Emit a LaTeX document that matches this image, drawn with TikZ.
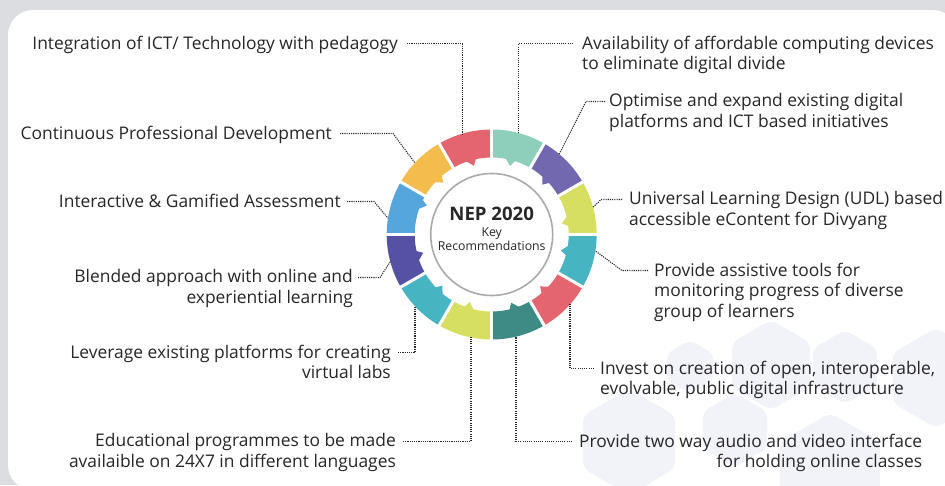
\documentclass[tikz,border=0pt]{standalone}
\usepackage{fontspec}
\setmainfont{Open Sans}
\definecolor{backgray}{RGB}{220,221,225}
\definecolor{hexfill}{RGB}{241,243,249}
\definecolor{ink}{RGB}{40,38,40}
\definecolor{hubgray}{RGB}{170,170,172}
\definecolor{segmint}{RGB}{142,207,188}
\definecolor{segviolet}{RGB}{114,104,176}
\definecolor{seglime}{RGB}{215,223,98}
\definecolor{segcyan}{RGB}{71,181,193}
\definecolor{segcoral}{RGB}{228,101,111}
\definecolor{segteal}{RGB}{62,138,132}
\definecolor{segindigo}{RGB}{85,82,164}
\definecolor{segblue}{RGB}{85,166,220}
\definecolor{segorange}{RGB}{243,188,76}

\begin{document}
\begin{tikzpicture}[
    x=1pt, y=1pt,
    lab/.style={
        inner sep=0pt,
        text=ink,
        font=\fontsize{17.4}{20.5}\selectfont
    },
    labl/.style={lab, align=right, anchor=north east},
    labr/.style={lab, align=left, anchor=north west},
    leader/.style={ink, line width=1.1pt, dash pattern=on 1.1pt off 1.1pt}
]
\def\rin{77}
\def\rout{105}

% ---------------- Fondo ----------------
\clip (0,0) rectangle (945,-485);
\fill[backgray] (0,0) rectangle (945,-485);
\fill[white, rounded corners=25pt] (8,-10) rectangle (958,-490);
\foreach \hx/\hy/\hr in {690/367/27, 771/365/45, 845/367/37, 936/378/50,
                         629/442/53, 735/430/37, 830/471/58}
    \fill[hexfill, rounded corners=7pt] (\hx,-\hy) ++(90:\hr) -- ++(-30:\hr)
        -- ++(-90:\hr) -- ++(-150:\hr) -- ++(150:\hr) -- ++(90:\hr) -- cycle;

% ---------------- Aro ----------------
\coordinate (c) at (491.7,-234.5);
\foreach \a/\col/\m in {60/segmint/76, 30/segviolet/45.6, 0/seglime/10,
                        -30/segcyan/-12, -60/segcoral/-46, -90/segteal/-73,
                        -120/seglime/-107, -150/segcyan/-133, -180/segindigo/-164,
                        150/segblue/157, 120/segorange/134, 90/segcoral/105.5} {
    \fill[\col] ([shift={(\a:\rin)}]c) arc[start angle=\a, end angle=\a+30, radius=\rin]
        -- ([shift={({\a+30}:\rout)}]c) arc[start angle=\a+30, end angle=\a, radius=\rout] -- cycle;
    \fill[\col] ([shift={({\m-4}:\rin+1)}]c) -- ([shift={({\m-1}:\rin-6)}]c)
        -- ([shift={({\m+4}:\rin+1)}]c) -- cycle;
}
\foreach \a in {0,30,...,330}
    \draw[white, line width=3pt] ([shift={(\a:\rin-8)}]c) -- ([shift={(\a:\rout+3)}]c);

\node[circle, draw=hubgray, line width=1.6pt, minimum size=122pt, inner sep=0pt] (hub) at (c) {};
\node[inner sep=0pt, anchor=north, align=center, text=ink,
      font=\fontsize{12.3}{14.5}\selectfont] (hubtext) at (491.7,-207)
    {{\fontsize{18.6}{20}\selectfont\bfseries NEP 2020}\\[1.2pt]Key\\Recommendations};

% ring points
\foreach \n/\ang in {p1/106.4, p2/75, p3/50, p4/15, p5/-9, p6/-41.8,
                     p7/-76.6, p8/-101.4, p9/-136.9, p10/195, p11/171, p12/137}
    \coordinate (\n) at ([shift={(\ang:\rout)}]c);

% ---------------- Lado dereito ----------------
\node[labr] (r1) at (582,-35.5) {Availability of affordable computing devices\\to eliminate digital divide};
\node[labr] (r2) at (609,-93.5) {Optimise and expand existing digital\\platforms and ICT based initiatives};
\node[labr] (r3) at (629,-191.5) {Universal Learning Design (UDL) based\\accessible eContent for Divyang};
\node[labr] (r4) at (654,-262.5) {Provide assistive tools for\\monitoring progress of diverse\\group of learners};
\node[labr] (r5) at (600,-360.5) {Invest on creation of open, interoperable,\\evolvable, public digital infrastructure};
\node[labr, align=right] (r6) at (579,-433.5) {Provide two way audio and video interface\\for holding online classes};

\draw[leader] ([xshift=-9pt, yshift=-8pt]r1.north west) -| (p2);
\draw[leader] ([xshift=-4pt, yshift=-8pt]r2.north west) -- ++(-19,0) -- (p3);
\draw[leader] ([xshift=-7pt, yshift=-8pt]r3.north west) -- ++(-21,0) -- (p4);
\draw[leader] ([xshift=-6pt, yshift=-8pt]r4.north west) -- ++(-26,0) -- (p5);
\draw[leader] ([xshift=-6pt, yshift=-8pt]r5.north west) -| (p6);
\draw[leader] ([xshift=-7pt, yshift=-8pt]r6.north west) -| (p7);

% ---------------- Lado esquerdo ----------------
\node[labl] (l1) at (398,-35.5) {Integration of ICT/ Technology with pedagogy};
\node[labl] (l2) at (332,-125.5) {Continuous Professional Development};
\node[labl] (l3) at (341,-193.5) {Interactive \& Gamified Assessment};
\node[labl] (l4) at (353,-269.5) {Blended approach with online and\\experiential learning};
\node[labl] (l5) at (391,-344.5) {Leverage existing platforms for creating\\virtual labs};
\node[labl] (l6) at (396,-433.5) {Educational programmes to be made\\availaible on 24X7 in different languages};

\draw[leader] ([xshift=9pt, yshift=-8pt]l1.north east) -| (p1);
\draw[leader] ([xshift=8pt, yshift=-8pt]l2.north east) -- ++(53,0) -- (p12);
\draw[leader] ([xshift=6pt, yshift=-8pt]l3.north east) -- ++(27,0) -- (p11);
\draw[leader] ([xshift=5pt, yshift=-8pt]l4.north east) -- ++(22,0) -- (p10);
\draw[leader] ([xshift=7pt, yshift=-8pt]l5.north east) -| (p9);
\draw[leader] ([xshift=7pt, yshift=-8pt]l6.north east) -| (p8);

\end{tikzpicture}
\end{document}
